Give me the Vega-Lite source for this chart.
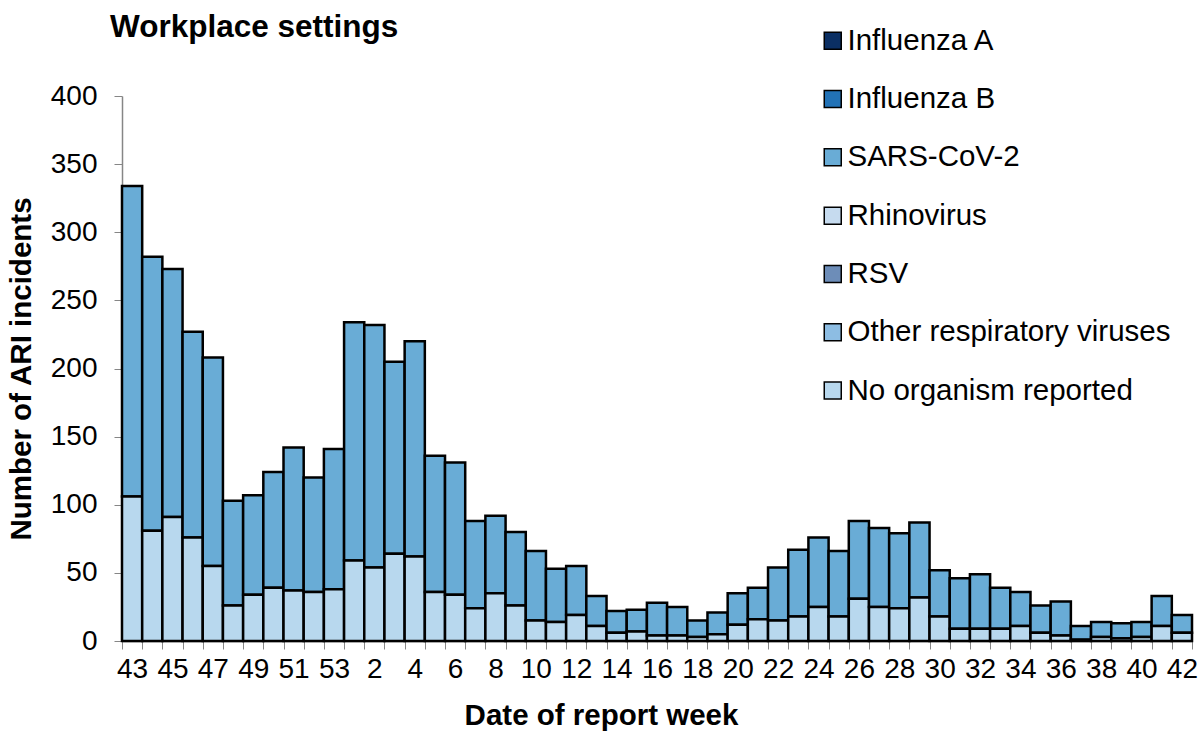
{
  "$schema": "https://vega.github.io/schema/vega-lite/v6.json",
  "width": 1070,
  "height": 545,
  "autosize": "none",
  "padding": {"left": 122, "top": 96, "right": 8, "bottom": 93},
  "background": "white",
  "config": {
    "font": "Liberation Sans",
    "view": {"stroke": null}
  },
  "title": {
    "text": "Workplace settings",
    "anchor": "start",
    "frame": "group",
    "fontSize": 31.5,
    "fontWeight": "bold",
    "color": "black",
    "baseline": "alphabetic",
    "offset": 0,
    "dy": 42,
    "dx": -12
  },
  "data": {
    "values": [
      {"week": "43", "SARS-CoV-2": 228, "No organism reported": 106},
      {"week": "44", "SARS-CoV-2": 201, "No organism reported": 81},
      {"week": "45", "SARS-CoV-2": 182, "No organism reported": 91},
      {"week": "46", "SARS-CoV-2": 151, "No organism reported": 76},
      {"week": "47", "SARS-CoV-2": 153, "No organism reported": 55},
      {"week": "48", "SARS-CoV-2": 77, "No organism reported": 26},
      {"week": "49", "SARS-CoV-2": 73, "No organism reported": 34},
      {"week": "50", "SARS-CoV-2": 85, "No organism reported": 39},
      {"week": "51", "SARS-CoV-2": 105, "No organism reported": 37},
      {"week": "52", "SARS-CoV-2": 84, "No organism reported": 36},
      {"week": "53", "SARS-CoV-2": 103, "No organism reported": 38},
      {"week": "1", "SARS-CoV-2": 175, "No organism reported": 59},
      {"week": "2", "SARS-CoV-2": 178, "No organism reported": 54},
      {"week": "3", "SARS-CoV-2": 141, "No organism reported": 64},
      {"week": "4", "SARS-CoV-2": 158, "No organism reported": 62},
      {"week": "5", "SARS-CoV-2": 100, "No organism reported": 36},
      {"week": "6", "SARS-CoV-2": 97, "No organism reported": 34},
      {"week": "7", "SARS-CoV-2": 64, "No organism reported": 24},
      {"week": "8", "SARS-CoV-2": 57, "No organism reported": 35},
      {"week": "9", "SARS-CoV-2": 54, "No organism reported": 26},
      {"week": "10", "SARS-CoV-2": 51, "No organism reported": 15},
      {"week": "11", "SARS-CoV-2": 39, "No organism reported": 14},
      {"week": "12", "SARS-CoV-2": 36, "No organism reported": 19},
      {"week": "13", "SARS-CoV-2": 22, "No organism reported": 11},
      {"week": "14", "SARS-CoV-2": 16, "No organism reported": 6},
      {"week": "15", "SARS-CoV-2": 16, "No organism reported": 7},
      {"week": "16", "SARS-CoV-2": 24, "No organism reported": 4},
      {"week": "17", "SARS-CoV-2": 21, "No organism reported": 4},
      {"week": "18", "SARS-CoV-2": 12, "No organism reported": 3},
      {"week": "19", "SARS-CoV-2": 16, "No organism reported": 5},
      {"week": "20", "SARS-CoV-2": 23, "No organism reported": 12},
      {"week": "21", "SARS-CoV-2": 23, "No organism reported": 16},
      {"week": "22", "SARS-CoV-2": 39, "No organism reported": 15},
      {"week": "23", "SARS-CoV-2": 49, "No organism reported": 18},
      {"week": "24", "SARS-CoV-2": 51, "No organism reported": 25},
      {"week": "25", "SARS-CoV-2": 48, "No organism reported": 18},
      {"week": "26", "SARS-CoV-2": 57, "No organism reported": 31},
      {"week": "27", "SARS-CoV-2": 58, "No organism reported": 25},
      {"week": "28", "SARS-CoV-2": 55, "No organism reported": 24},
      {"week": "29", "SARS-CoV-2": 55, "No organism reported": 32},
      {"week": "30", "SARS-CoV-2": 34, "No organism reported": 18},
      {"week": "31", "SARS-CoV-2": 37, "No organism reported": 9},
      {"week": "32", "SARS-CoV-2": 40, "No organism reported": 9},
      {"week": "33", "SARS-CoV-2": 30, "No organism reported": 9},
      {"week": "34", "SARS-CoV-2": 25, "No organism reported": 11},
      {"week": "35", "SARS-CoV-2": 20, "No organism reported": 6},
      {"week": "36", "SARS-CoV-2": 25, "No organism reported": 4},
      {"week": "37", "SARS-CoV-2": 10, "No organism reported": 1},
      {"week": "38", "SARS-CoV-2": 11, "No organism reported": 3},
      {"week": "39", "SARS-CoV-2": 11, "No organism reported": 2},
      {"week": "40", "SARS-CoV-2": 11, "No organism reported": 3},
      {"week": "41", "SARS-CoV-2": 22, "No organism reported": 11},
      {"week": "42", "SARS-CoV-2": 13, "No organism reported": 6}
    ]
  },
  "transform": [
    {"fold": ["SARS-CoV-2", "No organism reported"], "as": ["series", "count"]}
  ],
  "mark": {"type": "bar", "stroke": "black", "strokeWidth": 2.5},
  "encoding": {
    "x": {
      "field": "week",
      "type": "nominal",
      "sort": null,
      "scale": {"paddingInner": 0, "paddingOuter": 0},
      "axis": {
        "title": "Date of report week",
        "titleFontSize": 29.5,
        "titleFontWeight": "bold",
        "titleColor": "black",
        "titlePadding": 18,
        "titleX": 479,
        "labelExpr": "(toNumber(datum.value) >= 43) == (toNumber(datum.value) % 2 == 1) ? datum.label : ''",
        "labelAngle": 0,
        "labelOverlap": false,
        "labelFontSize": 28,
        "labelColor": "black",
        "labelPadding": 6,
        "tickBand": "extent",
        "tickSize": 8,
        "tickColor": "#868686",
        "domainColor": "#868686",
        "domainWidth": 1.5
      }
    },
    "y": {
      "field": "count",
      "type": "quantitative",
      "stack": "zero",
      "scale": {"domain": [0, 400], "nice": false},
      "axis": {
        "title": "Number of ARI incidents",
        "titleFontSize": 29.5,
        "titleFontWeight": "bold",
        "titleColor": "black",
        "titlePadding": 14,
        "values": [0, 50, 100, 150, 200, 250, 300, 350, 400],
        "grid": false,
        "labelFontSize": 28,
        "labelColor": "black",
        "labelPadding": 17,
        "tickSize": 8,
        "tickColor": "#868686",
        "domainColor": "#868686",
        "domainWidth": 1.5
      }
    },
    "color": {
      "field": "series",
      "type": "nominal",
      "scale": {
        "domain": ["Influenza A", "Influenza B", "SARS-CoV-2", "Rhinovirus", "RSV", "Other respiratory viruses", "No organism reported"],
        "range": ["#0b2f63", "#2272b6", "#69acd6", "#c6dbef", "#6d8db8", "#8dbde3", "#b8d8ee"]
      },
      "legend": {
        "title": null,
        "orient": "none",
        "legendX": 696,
        "legendY": -70,
        "padding": 0,
        "symbolType": "square",
        "symbolSize": 289,
        "symbolStrokeColor": "black",
        "symbolStrokeWidth": 1.5,
        "labelFontSize": 29.5,
        "labelColor": "black",
        "labelOffset": 0,
        "rowPadding": 27.3,
        "labelLimit": 500
      }
    },
    "order": {"field": "series", "sort": "ascending"}
  }
}
